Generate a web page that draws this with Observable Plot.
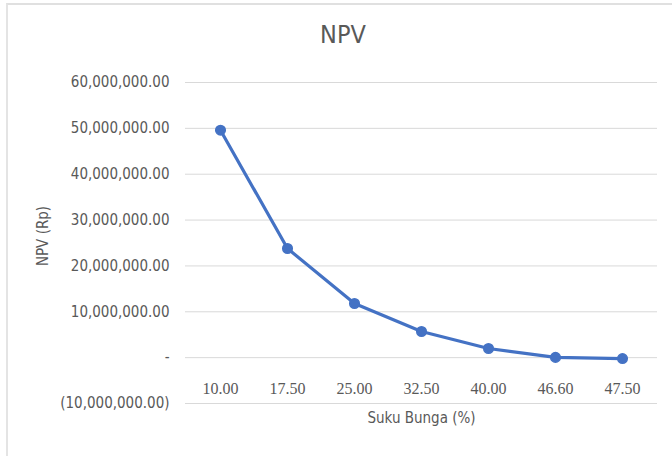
<!DOCTYPE html>
<html>
<head>
<meta charset="utf-8">
<script src="https://cdn.jsdelivr.net/npm/d3@7"></script>
<script src="https://cdn.jsdelivr.net/npm/@observablehq/plot@0.6"></script>
<style>
  html, body { margin: 0; padding: 0; background: #fff; }
  #wrap { position: relative; width: 672px; height: 456px; overflow: hidden; background: #fff; }
  #frame { position: absolute; left: 6px; top: 3px; width: 700px; height: 500px;
           border-left: 2px solid #e4e4e4; border-top: 2px solid #e0e0e0; }
  #title { position: absolute; left: 0; width: 686px; top: 20px; text-align: center;
           font-family: "Liberation Sans Narrow", "DejaVu Sans Condensed", sans-serif;
           font-size: 25px; color: #595959; }
  #chart { position: absolute; left: 0; top: 0; }
</style>
</head>
<body>
<div id="wrap">
  <div id="frame"></div>
  <div id="title">NPV</div>
  <div id="chart"></div>
</div>
<script>
const rates = ["10.00", "17.50", "25.00", "32.50", "40.00", "46.60", "47.50"];
const npv = [49600000, 23800000, 11800000, 5700000, 2000000, 50000, -200000];
const yTicks = [-10000000, 0, 10000000, 20000000, 30000000, 40000000, 50000000, 60000000];

const data = rates.map((r, i) => ({rate: r, npv: npv[i]}));
const fmt = d3.format(",.2f");
const acct = v => v === 0 ? "-" : v < 0 ? "(" + fmt(-v) + ")" : fmt(v);
const font = '"Liberation Sans Narrow", "DejaVu Sans Condensed", sans-serif';
const serif = '"Liberation Serif", "DejaVu Serif", serif';
const blue = "#4472C4";

const chart = Plot.plot({
  width: 672,
  height: 456,
  marginLeft: 185,
  marginRight: 15,
  marginTop: 82,
  marginBottom: 53,
  style: {fontFamily: font, fontSize: "15px", color: "#595959", background: "transparent"},
  x: {type: "point", domain: rates, padding: 0.5, label: null, axis: null},
  y: {domain: [-10000000, 60000000], label: null, axis: null},
  marks: [
    Plot.gridY(yTicks, {stroke: "#d9d9d9", strokeOpacity: 1, strokeWidth: 1}),
    Plot.axisY(yTicks, {tickSize: 0, tickPadding: 16, tickFormat: acct, fill: "#595959", fontSize: 15, label: null}),
    Plot.text(data, {x: "rate", y: 0, dy: 31, text: "rate", fill: "#595959", fontSize: 16, fontFamily: serif}),
    Plot.line(data, {x: "rate", y: "npv", stroke: blue, strokeWidth: 3.2}),
    Plot.dot(data, {x: "rate", y: "npv", r: 4.8, fill: blue, stroke: blue}),
    Plot.text(["Suku Bunga (%)"], {frameAnchor: "bottom", dy: 19, text: d => d, fill: "#595959", fontSize: 15, textAnchor: "middle"}),
    Plot.text(["NPV (Rp)"], {frameAnchor: "left", dx: -142, dy: -7, rotate: -90, text: d => d, fill: "#595959", fontSize: 15, textAnchor: "middle"})
  ]
});
document.getElementById("chart").appendChild(chart);
</script>
</body>
</html>
